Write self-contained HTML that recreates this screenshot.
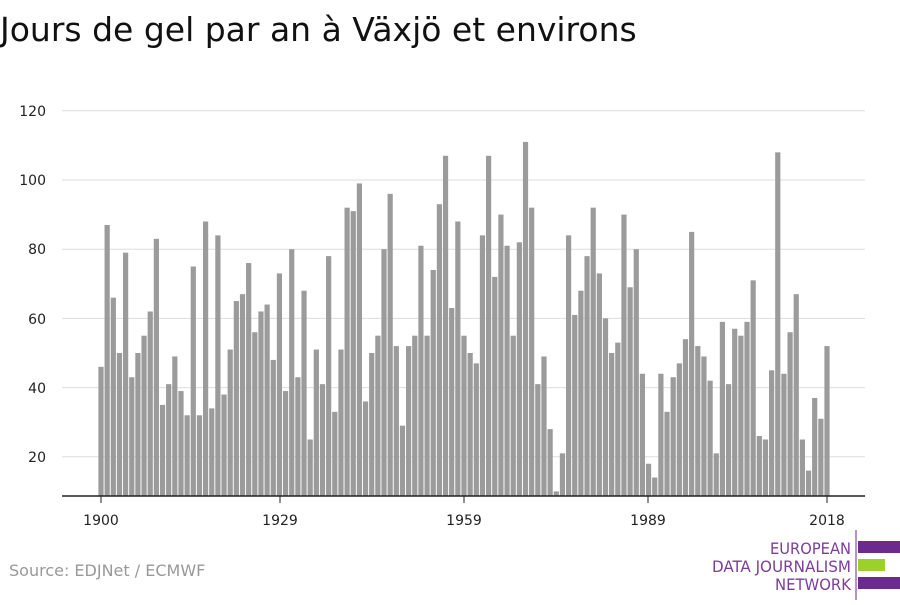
<!DOCTYPE html>
<html><head><meta charset="utf-8"><style>
body{margin:0;background:#fff;width:900px;height:600px;overflow:hidden;font-family:"Liberation Sans","DejaVu Sans",sans-serif}
</style></head><body>
<svg id="s" width="900" height="600" xmlns="http://www.w3.org/2000/svg">
<text x="0" y="41" font-size="33" fill="#111" font-family="DejaVu Sans, Liberation Sans, sans-serif">Jours de gel par an à Växjö et environs</text>
<g id="grid"></g>
<g id="bars" fill="#9b9b9b"></g>
<line x1="62" x2="865" y1="496" y2="496" stroke="#222" stroke-width="1.5"/>
<g font-size="14" fill="#222" font-family="DejaVu Sans, Liberation Sans, sans-serif" text-anchor="end">
<text x="46" y="116">120</text><text x="46" y="185">100</text><text x="46" y="254">80</text><text x="46" y="324">60</text><text x="46" y="393">40</text><text x="46" y="462">20</text>
</g>
<g font-size="14" fill="#222" font-family="DejaVu Sans, Liberation Sans, sans-serif" text-anchor="middle">
<text x="101" y="525">1900</text><text x="280" y="525">1929</text><text x="464" y="525">1959</text><text x="648" y="525">1989</text><text x="827" y="525">2018</text>
</g>
<g stroke="#222"><line x1="101" x2="101" y1="496" y2="503"/><line x1="280" x2="280" y1="496" y2="503"/><line x1="464" x2="464" y1="496" y2="503"/><line x1="648" x2="648" y1="496" y2="503"/><line x1="827" x2="827" y1="496" y2="503"/></g>
<text x="9" y="576" font-size="16" fill="#999" font-family="DejaVu Sans, Liberation Sans, sans-serif">Source: EDJNet / ECMWF</text>
<g font-size="16" fill="#7b3d9b" font-family="DejaVu Sans Condensed, Liberation Sans Narrow, sans-serif">
<text x="770" y="554" textLength="81" lengthAdjust="spacingAndGlyphs">EUROPEAN</text><text x="712" y="572" textLength="139" lengthAdjust="spacingAndGlyphs">DATA JOURNALISM</text><text x="775" y="590" textLength="76" lengthAdjust="spacingAndGlyphs">NETWORK</text>
</g>
<line x1="856" x2="856" y1="530" y2="600" stroke="#6b2a8c"/>
<rect x="858" y="541" width="42" height="12" fill="#6b2a8c"/>
<rect x="858" y="559" width="27" height="12" fill="#9bd12a"/>
<rect x="858" y="577" width="42" height="12" fill="#6b2a8c"/>
</svg>
<script>
var v=[46,87,66,50,79,43,50,55,62,83,35,41,49,39,32,75,32,88,34,84,38,51,65,67,76,56,62,64,48,73,39,80,43,68,25,51,41,78,33,51,92,91,99,36,50,55,80,96,52,29,52,55,81,55,74,93,107,63,88,55,50,47,84,107,72,90,81,55,82,111,92,41,49,28,10,21,84,61,68,78,92,73,60,50,53,90,69,80,44,18,14,44,33,43,47,54,85,52,49,42,21,59,41,57,55,59,71,26,25,45,108,44,56,67,25,16,37,31,52];
var ns="http://www.w3.org/2000/svg",b=document.getElementById("bars"),g=document.getElementById("grid");
[20,40,60,80,100,120].forEach(function(t){var l=document.createElementNS(ns,"line");var y=526-t*3.46;l.setAttribute("x1",62);l.setAttribute("x2",865);l.setAttribute("y1",y);l.setAttribute("y2",y);l.setAttribute("stroke","#ddd");g.appendChild(l);});
var step=(827-101)/118;
v.forEach(function(val,i){var r=document.createElementNS(ns,"rect");var x=101+i*step;var top=526-val*3.46;r.setAttribute("x",x-2.6);r.setAttribute("width",5.2);r.setAttribute("y",top);r.setAttribute("height",Math.max(0,496-top));b.appendChild(r);});
</script>
</body></html>
